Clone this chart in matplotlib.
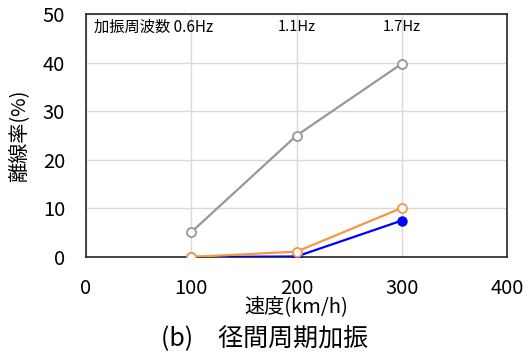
import matplotlib
matplotlib.use('Agg')
import matplotlib.pyplot as plt

plt.rcParams['font.family'] = ['Noto Sans CJK JP', 'DejaVu Sans']

# 速度 (km/h) と離線率 (%)
speed = [100, 200, 300]
rate_gray = [5.1, 25.0, 39.8]
rate_orange = [0.0, 1.1, 10.1]
rate_blue = [0.0, 0.1, 7.5]

freq_labels = ['加振周波数 0.6Hz', '1.1Hz', '1.7Hz']

fig = plt.figure(figsize=(5.3, 3.53), dpi=100)
ax = fig.add_axes([0.162, 0.272, 0.795, 0.688])

ax.plot(speed, rate_gray, color='#979797', lw=1.6, marker='o', ms=6.5,
        mfc='white', mec='#979797', mew=1.3, zorder=3)
ax.plot(speed, rate_blue, color='#0000ff', lw=1.6, marker='o', ms=6.5,
        mfc='#0000ff', mec='#0000ff', zorder=4)
ax.plot(speed, rate_orange, color='#f79646', lw=1.6, marker='o', ms=6.5,
        mfc='white', mec='#f79646', mew=1.3, zorder=5)

ax.set_xlim(0, 400)
ax.set_ylim(0, 50)
ax.set_xticks([0, 100, 200, 300, 400])
ax.set_yticks([0, 10, 20, 30, 40, 50])
ax.tick_params(length=0, labelsize=14.5)
ax.tick_params(axis='y', pad=15)
ax.tick_params(axis='x', pad=15)
ax.grid(True, color='#d9d9d9', lw=1)
ax.set_axisbelow(True)
for s in ax.spines.values():
    s.set_color('#262626')
    s.set_linewidth(1.2)

# 加振周波数の注記
ax.text(8, 47.3, freq_labels[0], fontsize=11, ha='left', va='center')
ax.text(speed[1], 47.3, freq_labels[1], fontsize=10.5, ha='center', va='center')
ax.text(speed[2], 47.3, freq_labels[2], fontsize=10.5, ha='center', va='center')

ax.set_ylabel('離線率(%)', fontsize=14.5)
ax.yaxis.set_label_coords(-0.135, 0.5)
ax.set_xlabel('速度(km/h)', fontsize=14.5)
ax.xaxis.set_label_coords(0.5, -0.165)
fig.text(0.5, 0.042, '(b)　径間周期加振', fontsize=18, ha='center', va='center')

fig.savefig('out.png', dpi=100, facecolor='white')
